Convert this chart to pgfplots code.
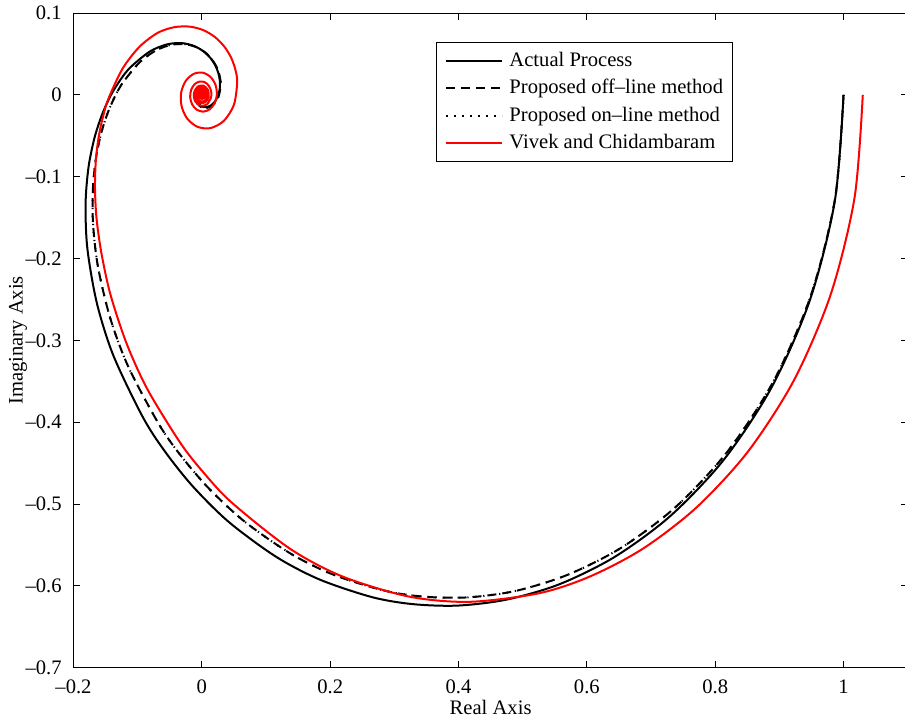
\documentclass[border=0pt]{standalone}
\usepackage{fontspec}
\setmainfont{Liberation Serif}
\usepackage{pgfplots}
\usepackage{pgfplotstable}
\pgfplotsset{compat=1.18}
\usetikzlibrary{calc}

% Nyquist curves: real part, imaginary part
\pgfplotstableread{
x y
1.0000 0.0000
0.9866 -0.1287
0.9481 -0.2496
0.8886 -0.3564
0.8140 -0.4452
0.7303 -0.5144
0.6434 -0.5645
0.5570 -0.5980
0.4749 -0.6167
0.3983 -0.6240
0.3285 -0.6222
0.2654 -0.6137
0.1834 -0.5921
0.1150 -0.5640
0.0418 -0.5217
-0.0148 -0.4777
-0.0585 -0.4346
-0.0921 -0.3935
-0.1376 -0.3190
-0.1634 -0.2550
-0.1783 -0.1883
-0.1812 -0.1337
-0.1767 -0.0890
-0.1673 -0.0526
-0.1550 -0.0231
-0.1410 0.0006
-0.1260 0.0194
-0.1108 0.0340
-0.0810 0.0530
-0.0541 0.0617
-0.0310 0.0632
-0.0121 0.0597
0.0027 0.0531
0.0137 0.0447
0.0212 0.0356
0.0258 0.0264
0.0280 0.0176
0.0281 0.0097
0.0268 0.0028
0.0210 -0.0075
0.0133 -0.0133
0.0055 -0.0150
-0.0011 -0.0138
-0.0058 -0.0105
-0.0085 -0.0063
-0.0088 -0.0001
-0.0061 0.0043
-0.0007 0.0060
0.0032 0.0039
0.0042 0.0002
}\actual

\pgfplotstableread{
x y
1.0000 0.0000
0.9870 -0.1257
0.9496 -0.2439
0.8919 -0.3484
0.8195 -0.4355
0.7383 -0.5036
0.6539 -0.5532
0.5703 -0.5863
0.4901 -0.6059
0.4157 -0.6139
0.3475 -0.6132
0.2860 -0.6060
0.2059 -0.5865
0.1388 -0.5607
0.0667 -0.5214
0.0106 -0.4806
-0.0331 -0.4404
-0.0672 -0.4020
-0.1145 -0.3323
-0.1430 -0.2722
-0.1621 -0.2090
-0.1696 -0.1568
-0.1697 -0.1134
-0.1649 -0.0772
-0.1569 -0.0470
-0.1466 -0.0219
-0.1349 -0.0012
-0.1224 0.0157
-0.0965 0.0401
-0.0712 0.0544
-0.0480 0.0611
-0.0278 0.0620
-0.0107 0.0589
0.0030 0.0531
0.0135 0.0455
0.0211 0.0370
0.0260 0.0283
0.0286 0.0198
0.0293 0.0119
0.0264 -0.0013
0.0199 -0.0103
0.0120 -0.0150
0.0043 -0.0161
-0.0022 -0.0144
-0.0068 -0.0109
-0.0099 -0.0042
-0.0089 0.0018
-0.0041 0.0062
0.0013 0.0061
0.0044 0.0029
}\proposed

\pgfplotstableread{
x y
1.0300 0.0000
1.0172 -0.1254
0.9802 -0.2434
0.9232 -0.3480
0.8516 -0.4353
0.7713 -0.5038
0.6875 -0.5544
0.6047 -0.5885
0.5255 -0.6089
0.4171 -0.6194
0.3229 -0.6130
0.2193 -0.5885
0.1375 -0.5546
0.0465 -0.4981
0.0017 -0.4606
-0.0338 -0.4249
-0.0846 -0.3600
-0.1172 -0.3039
-0.1422 -0.2446
-0.1561 -0.1951
-0.1640 -0.1518
-0.1665 -0.1144
-0.1653 -0.0815
-0.1610 -0.0526
-0.1542 -0.0272
-0.1456 -0.0048
-0.1237 0.0318
-0.0976 0.0584
-0.0692 0.0756
-0.0433 0.0826
-0.0191 0.0834
0.0025 0.0790
0.0208 0.0704
0.0353 0.0587
0.0459 0.0450
0.0525 0.0301
0.0551 0.0151
0.0500 -0.0121
0.0345 -0.0316
0.0137 -0.0406
-0.0070 -0.0390
-0.0232 -0.0286
-0.0318 -0.0130
-0.0320 0.0037
-0.0247 0.0175
-0.0125 0.0257
0.0013 0.0271
0.0135 0.0219
0.0213 0.0122
0.0234 0.0004
0.0198 -0.0104
0.0119 -0.0179
0.0018 -0.0205
-0.0080 -0.0181
-0.0151 -0.0116
-0.0182 -0.0028
-0.0167 0.0060
-0.0114 0.0129
-0.0037 0.0162
0.0044 0.0155
0.0109 0.0111
0.0145 0.0044
0.0144 -0.0030
0.0077 -0.0118
-0.0028 -0.0132
-0.0109 -0.0071
-0.0122 0.0026
-0.0065 0.0101
0.0024 0.0113
0.0094 0.0061
0.0106 -0.0023
0.0057 -0.0088
-0.0021 -0.0099
-0.0083 -0.0054
-0.0094 0.0020
-0.0051 0.0078
0.0019 0.0088
0.0074 0.0048
0.0084 -0.0018
0.0045 -0.0070
-0.0017 -0.0080
-0.0067 -0.0043
-0.0076 0.0016
-0.0041 0.0064
0.0015 0.0072
0.0061 0.0039
0.0069 -0.0015
}\vivek

\begin{document}
\begin{tikzpicture}[font=\fontsize{10.3}{12.4}\selectfont]
\begin{axis}[
  name=ax,
  scale only axis,
  width=417.1pt, height=327.4pt,
  xmin=-0.2, xmax=1.1, ymin=-0.7, ymax=0.1,
  xtick={-0.2,0,0.2,0.4,0.6,0.8,1},
  xticklabels={--0.2,0,0.2,0.4,0.6,0.8,1},
  ytick={-0.7,-0.6,-0.5,-0.4,-0.3,-0.2,-0.1,0,0.1},
  yticklabels={--0.7,--0.6,--0.5,--0.4,--0.3,--0.2,--0.1,0,0.1},
  tick align=inside,
  major tick length=3.5pt,
  axis line style={line width=0.5pt},
  every tick/.style={black, line width=0.5pt},
  tick label style={font=\fontsize{10.3}{12.4}\selectfont},
  xticklabel style={yshift=-2.4pt},
  yticklabel style={xshift=-2.4pt},
  xlabel={Real Axis},
  ylabel={Imaginary Axis},
  label style={font=\fontsize{10.3}{12.4}\selectfont},
  xlabel style={at={(axis description cs:0.5,-0.0611)}, anchor=center},
  ylabel style={at={(axis description cs:-0.0665,0.5)}, anchor=center},
  legend cell align=left,
  legend image code/.code={\draw[#1] (0pt,0pt) -- (28pt,0pt);},
  legend style={at={(axis description cs:0.4345,0.9553)}, anchor=north west,
    draw=black, line width=0.5pt, fill=white,
    inner xsep=4.5pt, inner ysep=2.2pt, row sep=0pt, column sep=3pt,
    nodes={inner xsep=0pt, inner ysep=2pt, text height=7.7pt, text depth=2pt,
      font=\fontsize{10.3}{12.4}\selectfont}},
]
\addplot[black, line width=1pt, smooth] table {\actual};
\addlegendentry{Actual Process}
\addplot[black, line width=1pt, dash pattern=on 4.5pt off 3pt, smooth] table {\proposed};
\addlegendentry{Proposed off--line method}
\addplot[black, line width=1pt, dash pattern=on 0.6pt off 3.4pt, smooth] table {\proposed};
\addlegendentry{Proposed on--line method}
\addplot[red, line width=1pt, smooth] table {\vivek};
\addlegendentry{Vivek and Chidambaram}
% dense centre of the red spiral
\addplot[red, only marks, mark=*, mark size=2.4pt, forget plot] coordinates {(0,0)};
\end{axis}
\pgfresetboundingbox
\path[use as bounding box] ($(ax.south west)+(-36.75pt,-26.75pt)$) rectangle ($(ax.north east)+(-1.35pt,6.5pt)$);
\end{tikzpicture}
\end{document}
